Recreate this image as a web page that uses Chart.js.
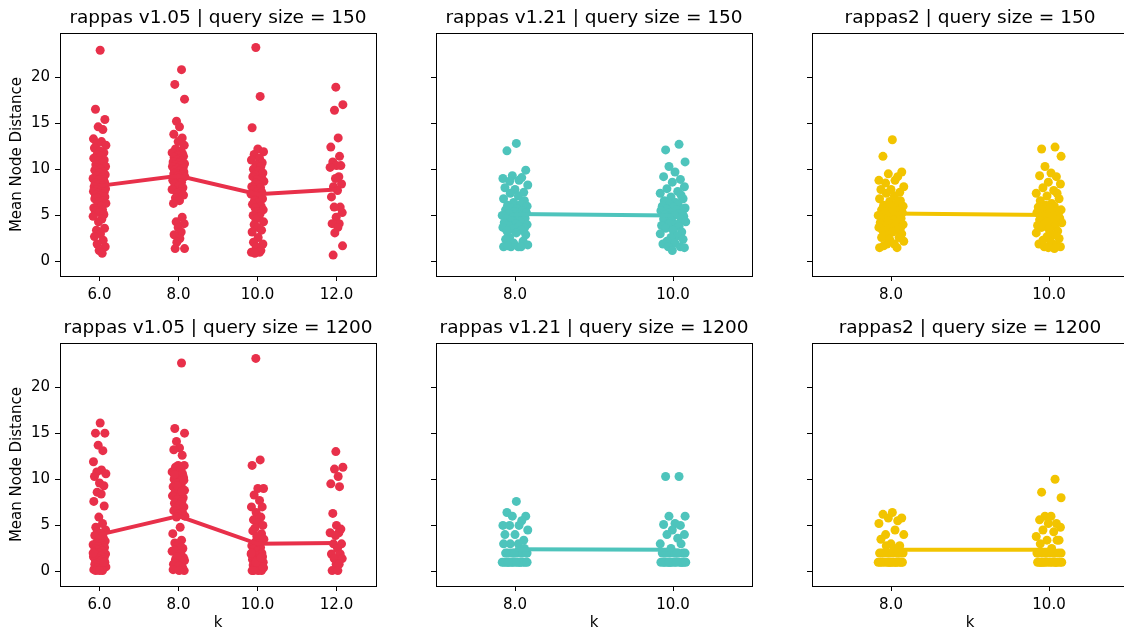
<!DOCTYPE html>
<html>
<head>
<meta charset="utf-8">
<script src="https://cdn.jsdelivr.net/npm/chart.js@4.4.0/dist/chart.umd.min.js"></script>
<style>
  html, body { margin: 0; padding: 0; background: #fff; overflow: hidden; }
  body { width: 1124px; height: 633px; position: relative; }
  canvas { position: absolute; }
</style>
</head>
<body>
<canvas id="p0"></canvas>
<canvas id="p1"></canvas>
<canvas id="p2"></canvas>
<canvas id="p3"></canvas>
<canvas id="p4"></canvas>
<canvas id="p5"></canvas>
<script>
// tick labels / axis
const kLong = ['6.0', '8.0', '10.0', '12.0'];
const kShort = ['8.0', '10.0'];
const yTicks = [0, 5, 10, 15, 20];
const yMin = -1.57, yMax = 24.77;

// shared strip jitter (fraction of half-width)
const jitter = [0.1,-0.6,0.8,-0.2,0.5,-0.9,0.3,-0.4,0.95,-0.75,0.0,0.65,-0.35,0.25,-0.85,0.7,-0.1,0.45,-0.55,0.9,
  -0.3,0.15,-0.7,0.55,-0.05,0.85,-0.45,0.35,-0.95,0.6,-0.15,0.75,-0.65,0.2,-0.25,0.4,-0.8,0.05,0.9,-0.5,
  0.3,-0.9,0.7,-0.2,0.5,-0.6,0.1,0.8,-0.4,-0.7,0.6,-0.1,0.95,-0.3,0.25,-0.85,0.45,-0.55,0.0,0.65,
  -0.95,0.35,-0.15,0.75,-0.45,0.15,-0.75,0.55,-0.35,0.85,-0.05,0.4,-0.65,0.2,-0.25,0.9,-0.5,0.05,0.6,-0.8];

// rappas v1.05 | query size = 150
const v105_150_k6 = [22.9,16.5,15.4,14.6,14.3,13.3,13.0,12.8,12.6,12.3,12.0,11.8,11.6,11.4,11.2,11.0,10.9,10.7,10.5,10.3,
  10.2,10.0,9.9,9.7,9.6,9.4,9.3,9.1,9.0,8.9,8.8,8.6,8.5,8.4,8.3,8.2,8.1,8.0,7.9,7.8,7.7,7.6,7.5,7.4,7.3,7.2,7.1,7.0,
  6.9,6.8,6.6,6.5,6.3,6.1,6.0,5.8,5.6,5.5,5.3,5.1,4.9,4.6,4.3,3.6,3.4,3.0,2.7,2.3,1.9,1.6,1.2,0.9];
const v105_150_k8 = [20.8,19.2,17.6,15.2,14.6,13.8,13.4,13.0,12.6,12.2,12.0,11.8,11.7,11.5,11.4,11.3,11.1,11.0,10.9,10.8,
  10.7,10.6,10.5,10.4,10.3,10.2,10.1,10.0,9.9,9.8,9.7,9.6,9.5,9.4,9.3,9.2,9.0,8.9,8.8,8.6,8.4,8.2,8.0,7.8,7.6,7.4,
  7.2,6.9,6.6,6.3,4.8,4.3,4.1,3.7,3.2,2.9,2.5,2.1,1.4,1.4];
const v105_150_k10 = [23.2,17.9,14.5,12.2,11.9,11.6,11.2,11.0,10.7,10.5,10.3,10.0,9.8,9.6,9.4,9.2,9.0,8.9,8.7,8.5,
  8.3,8.1,8.0,7.8,7.6,7.5,7.3,7.1,7.0,6.8,6.6,6.4,6.2,6.0,5.8,5.6,5.4,5.2,5.0,4.8,4.6,4.3,4.0,3.7,3.4,3.2,2.6,2.1,
  1.9,1.6,1.2,1.0,1.0,0.9];
const v105_150_k12 = [18.9,17.0,16.4,13.4,12.4,11.4,10.8,10.4,10.4,10.2,9.2,9.0,8.4,8.1,7.7,7.0,5.9,5.9,5.3,4.8,
  4.1,4.1,3.7,3.1,1.7,0.7];
const v105_150_means = [8.2, 9.3, 7.3, 7.8];

// rappas v1.21 | query size = 150
const v121_150_k8 = [12.8,12.0,9.9,9.3,9.1,9.0,8.8,8.7,8.3,8.0,7.8,7.5,7.4,7.1,6.8,6.6,6.4,6.2,6.1,6.0,5.8,5.7,5.6,
  5.5,5.4,5.3,5.2,5.1,5.0,4.9,4.8,4.7,4.6,4.5,4.4,4.3,4.2,4.1,4.0,3.9,3.8,3.7,3.6,3.5,3.4,3.3,3.1,2.9,2.6,2.4,2.2,
  2.0,1.8,1.6,1.6,1.6,1.6,1.7];
const v121_150_k10 = [12.7,12.1,10.8,10.3,9.7,9.2,8.9,8.6,8.1,7.9,7.6,7.4,7.2,7.0,6.8,6.6,6.4,6.2,6.1,6.0,5.9,5.8,
  5.7,5.6,5.5,5.4,5.3,5.2,5.1,5.0,4.9,4.8,4.6,4.5,4.4,4.3,4.1,4.0,3.9,3.8,3.6,3.4,3.2,3.0,2.8,2.6,2.4,2.2,2.0,1.9,
  1.6,1.6,1.5,1.2];
const v121_150_means = [5.15, 5.0];

// rappas2 | query size = 150
const r2_150_k8 = [13.2,11.4,9.7,9.5,9.2,8.8,8.8,8.5,8.1,7.8,7.8,7.5,7.4,7.1,6.8,6.6,6.5,6.3,6.1,6.0,5.9,5.8,5.6,
  5.5,5.4,5.3,5.2,5.1,5.0,4.9,4.8,4.7,4.6,4.5,4.4,4.3,4.2,4.1,4.0,3.9,3.8,3.7,3.6,3.5,3.4,3.3,3.2,3.0,2.8,2.6,2.6,
  2.4,2.2,1.9,1.9,1.5,1.5,1.7];
const r2_150_k10 = [12.4,12.2,11.4,10.3,9.6,9.3,9.2,8.6,8.4,8.0,7.7,7.4,7.4,7.1,6.8,6.6,6.3,6.1,6.0,5.9,5.8,5.6,5.5,
  5.4,5.3,5.2,5.1,5.0,4.9,4.8,4.7,4.6,4.5,4.4,4.3,4.2,4.1,4.0,3.9,3.8,3.7,3.5,3.3,3.1,2.9,2.7,2.5,2.3,2.1,1.9,1.8,
  1.6,1.6,1.5,1.4];
const r2_150_means = [5.2, 5.05];

// rappas v1.05 | query size = 1200
const v105_1200_k6 = [16.1,15.0,15.0,13.7,13.1,11.9,11.0,10.8,10.6,10.3,9.6,9.3,8.6,8.4,7.6,7.1,5.9,5.2,4.8,4.5,4.3,
  4.1,3.9,3.7,3.5,3.3,3.1,3.0,2.9,2.8,2.7,2.6,2.5,2.4,2.3,2.2,2.1,2.0,1.9,1.8,1.7,1.6,1.5,1.4,1.3,1.2,1.1,1.0,0.9,
  0.8,0.7,0.6,0.5,0.4,0.3,0.2,0.1,0.1,0.1,1.0,2.0];
const v105_1200_k8 = [22.6,15.5,15.0,14.1,13.4,13.2,12.6,11.5,11.5,11.3,11.0,10.8,10.6,10.4,10.2,10.0,9.8,9.6,9.4,9.2,
  9.0,8.8,8.6,8.4,8.2,8.0,7.8,7.6,7.4,7.2,7.0,6.8,6.6,6.4,6.2,6.0,5.9,4.8,4.1,3.4,3.1,2.8,2.5,2.2,2.0,1.8,1.5,1.3,
  1.0,0.8,0.5,0.3,0.1,3.0,2.6,2.3,1.9,1.6,1.2,0.9,0.6,0.4,0.2,0.1,10.5,9.9,9.3,8.7];
const v105_1200_k10 = [23.1,12.1,11.5,9.0,9.0,8.3,7.7,7.0,7.0,6.4,5.9,5.6,5.3,5.0,4.7,4.4,4.1,3.8,3.5,3.2,3.0,2.8,
  2.6,2.4,2.2,2.0,1.9,1.8,1.7,1.6,1.5,1.4,1.3,1.2,1.1,1.0,0.9,0.8,0.7,0.6,0.5,0.4,0.3,0.2,0.1,0.1,0.1,0.1,0.5,1.0,
  1.5,2.0];
const v105_1200_k12 = [13.0,11.3,11.1,10.3,9.5,9.2,6.3,5.0,4.6,4.2,4.2,3.9,3.0,3.0,2.5,1.9,1.9,1.4,1.4,0.8,0.8,0.1,0.1];
const v105_1200_means = [4.0, 6.0, 3.0, 3.1];

// rappas v1.21 | query size = 1200
const v121_1200_k8 = [7.6,6.4,6.0,6.0,5.5,5.0,5.0,5.0,4.5,4.0,4.0,3.4,3.0,3.0,3.0,2.5,2.0,2.0,2.0,2.0,2.0,2.0,2.0,2.0,
  2.0,2.0,1.0,1.0,1.0,1.0,1.0,1.0,1.0,1.0,1.0,1.0,1.0,1.0,1.0,1.0];
const v121_1200_k10 = [10.3,10.3,6.0,6.0,5.2,5.1,5.0,4.5,4.0,4.0,3.6,3.0,3.0,2.5,2.0,2.0,2.0,2.0,2.0,2.0,2.0,2.0,2.0,
  2.0,1.0,1.0,1.0,1.0,1.0,1.0,1.0,1.0,1.0,1.0,1.0,1.0,1.0,1.0];
const v121_1200_means = [2.4, 2.35];

// rappas2 | query size = 1200
const r2_1200_k8 = [6.4,6.2,5.8,5.8,5.5,5.2,4.5,4.0,4.0,3.5,3.0,2.8,2.8,2.5,2.0,2.0,2.0,2.0,2.0,2.0,2.0,2.0,2.0,2.0,
  1.0,1.0,1.0,1.0,1.0,1.0,1.0,1.0,1.0,1.0,1.0,1.0,1.0,1.0];
const r2_1200_k10 = [10.0,8.6,8.0,6.0,6.0,5.6,5.2,5.2,4.8,4.5,4.3,3.8,3.4,3.4,3.4,3.0,2.5,2.0,2.0,2.0,2.0,2.0,2.0,
  2.0,2.0,2.0,2.0,1.0,1.0,1.0,1.0,1.0,1.0,1.0,1.0,1.0,1.0,1.0,1.0,1.0,1.0];
const r2_1200_means = [2.35, 2.35];

const red = '#e8304a';
const teal = '#4ec4bc';
const yellow = '#f2c400';

const panels = [
  { id: 'p0', row: 0, col: 0, title: 'rappas v1.05 | query size = 150', k: kLong, cols: [v105_150_k6, v105_150_k8, v105_150_k10, v105_150_k12], means: v105_150_means, color: red },
  { id: 'p1', row: 0, col: 1, title: 'rappas v1.21 | query size = 150', k: kShort, cols: [v121_150_k8, v121_150_k10], means: v121_150_means, color: teal },
  { id: 'p2', row: 0, col: 2, title: 'rappas2 | query size = 150', k: kShort, cols: [r2_150_k8, r2_150_k10], means: r2_150_means, color: yellow },
  { id: 'p3', row: 1, col: 0, title: 'rappas v1.05 | query size = 1200', k: kLong, cols: [v105_1200_k6, v105_1200_k8, v105_1200_k10, v105_1200_k12], means: v105_1200_means, color: red },
  { id: 'p4', row: 1, col: 1, title: 'rappas v1.21 | query size = 1200', k: kShort, cols: [v121_1200_k8, v121_1200_k10], means: v121_1200_means, color: teal },
  { id: 'p5', row: 1, col: 2, title: 'rappas2 | query size = 1200', k: kShort, cols: [r2_1200_k8, r2_1200_k10], means: r2_1200_means, color: yellow }
];

const FONT = 'DejaVu Sans';
Chart.defaults.color = '#000';
Chart.defaults.font.family = FONT;

const colLeft = [0, 426, 802];
const yAxisW = [60, 10, 10];
const rowTop = [0, 310];
const xAxisH = [30, 46];
const plotW = 316, plotH = 243, titleH = 33, rightPad = 6;
const jitterWidth = 0.085;

// top + right spines
const framePlugin = {
  id: 'frame',
  afterDraw(chart) {
    const a = chart.chartArea;
    const ctx = chart.ctx;
    ctx.save();
    ctx.strokeStyle = '#000';
    ctx.lineWidth = 1;
    ctx.beginPath();
    ctx.moveTo(Math.round(a.left), Math.round(a.top) + 0.5);
    ctx.lineTo(Math.round(a.right) + 1, Math.round(a.top) + 0.5);
    ctx.moveTo(Math.round(a.right) + 0.5, Math.round(a.top));
    ctx.lineTo(Math.round(a.right) + 0.5, Math.round(a.bottom) + 1);
    ctx.stroke();
    ctx.restore();
  }
};

function stripPoints(cols) {
  const out = [];
  cols.forEach((ys, ci) => {
    ys.forEach((y, i) => {
      const j = jitter[(i + ci * 17) % jitter.length];
      out.push({ x: ci + j * jitterWidth, y: y });
    });
  });
  return out;
}

panels.forEach(p => {
  const canvas = document.getElementById(p.id);
  const w = yAxisW[p.col] + plotW + rightPad;
  const h = titleH + plotH + xAxisH[p.row];
  canvas.width = w;
  canvas.height = h;
  canvas.style.left = colLeft[p.col] + 'px';
  canvas.style.top = rowTop[p.row] + 'px';

  const tickFont = { family: FONT, size: 15 };

  new Chart(canvas, {
    type: 'scatter',
    data: {
      datasets: [
        {
          type: 'line',
          data: p.means.map((m, i) => ({ x: i, y: m })),
          borderColor: p.color,
          borderWidth: 4,
          pointRadius: 0,
          fill: false,
          order: 1
        },
        {
          type: 'scatter',
          data: stripPoints(p.cols),
          backgroundColor: p.color,
          borderWidth: 0,
          pointRadius: 4.5,
          order: 2
        }
      ]
    },
    options: {
      responsive: false,
      animation: false,
      events: [],
      layout: { padding: { left: 0, right: rightPad, top: 0, bottom: 0 } },
      plugins: {
        legend: { display: false },
        tooltip: { enabled: false },
        title: {
          display: true,
          text: p.title,
          fullSize: false,
          color: '#000',
          font: { family: FONT, size: 18.5, weight: 'normal', lineHeight: 1.2 },
          padding: { top: 6.6, bottom: 4.2 }
        }
      },
      scales: {
        x: {
          type: 'linear',
          min: -0.5,
          max: p.k.length - 0.5,
          afterBuildTicks: s => { s.ticks = p.k.map((_, i) => ({ value: i })); },
          afterFit: s => { s.height = xAxisH[p.row]; },
          ticks: {
            callback: (v, i) => p.k[i],
            font: tickFont,
            color: '#000',
            padding: 5,
            maxRotation: 0,
            autoSkip: false
          },
          grid: { drawOnChartArea: false, drawTicks: true, tickLength: 5, color: '#000', lineWidth: 1 },
          border: { display: true, color: '#000', width: 1 },
          title: { display: p.row === 1, text: 'k', color: '#000', font: tickFont, padding: { top: 0, bottom: 0 } }
        },
        y: {
          type: 'linear',
          min: yMin,
          max: yMax,
          afterBuildTicks: s => { s.ticks = yTicks.map(v => ({ value: v })); },
          afterFit: s => { s.width = yAxisW[p.col]; },
          ticks: {
            display: p.col === 0,
            callback: v => String(v),
            font: tickFont,
            color: '#000',
            padding: 5
          },
          grid: { drawOnChartArea: false, drawTicks: true, tickLength: 5, color: '#000', lineWidth: 1 },
          border: { display: true, color: '#000', width: 1 },
          title: { display: p.col === 0, text: 'Mean Node Distance', color: '#000', font: tickFont, padding: { top: 8.5, bottom: 0 } }
        }
      }
    },
    plugins: [framePlugin]
  });
});
</script>
</body>
</html>
